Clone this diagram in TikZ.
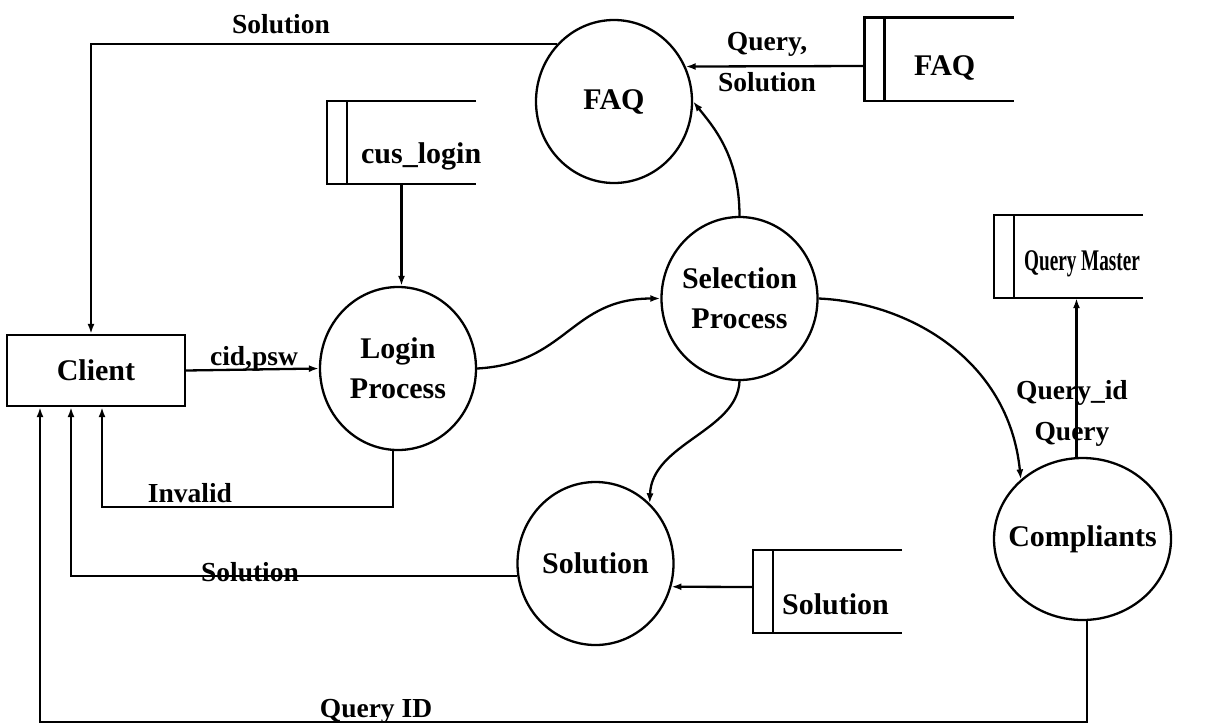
\documentclass[tikz,border=0pt]{standalone}
\usepackage{fontspec}
\setmainfont{Liberation Serif}
\usetikzlibrary{shapes.geometric,arrows.meta}

\begin{document}
\begin{tikzpicture}[x=1pt,y=-1pt,line width=2.3pt,
    proc/.style={ellipse,draw,minimum width=156pt,minimum height=163pt,
      inner xsep=-15pt,inner ysep=0pt,align=center,
      font=\fontsize{30}{40}\selectfont\bfseries},
    store/.style={minimum width=147pt,minimum height=81pt,inner sep=0pt},
    storetext/.style={anchor=base west,inner sep=0pt,font=\fontsize{30}{36}\selectfont\bfseries},
    flowlabel/.style={inner sep=0pt,align=center,font=\fontsize{27.5}{41}\selectfont\bfseries},
    flow/.style={-{Latex[length=10pt,width=7pt]}}]
\useasboundingbox (0,0) rectangle (1207,726);

% external entity
\node[draw,minimum width=178pt,minimum height=71pt,inner sep=0pt,
  font=\fontsize{30}{36}\selectfont\bfseries] (client) at (96,370.5) {Client};

% processes
\node[proc] (login) at (398,368.5) {Login\\Process};
\node[proc] (faq) at (614,101.5) {FAQ};
\node[proc] (sel) at (739.5,298.5) {Selection\\Process};
\node[proc] (sol) at (595.5,563.5) {Solution};
\node[proc,minimum width=177pt,minimum height=162pt] (comp) at (1082.5,539) {Compliants};

% data stores
\node[store] (cus) at (401.5,142.5) {};
\node[store] (faqdb) at (939,59) {};
\node[store] (qm) at (1068.5,256.5) {};
\node[store] (soldb) at (827.5,591.5) {};
\foreach \s in {cus,faqdb,qm,soldb}{
  \draw (\s.north east) -- (\s.north west) -- (\s.south west) -- (\s.south east);
  \draw ([xshift=20pt]\s.north west) -- ([xshift=20pt]\s.south west);
}
\node[storetext] (cus-txt) at (360,163) {cus\_login};
\node[storetext] (faqdb-txt) at (913,75) {FAQ};
\node[storetext] (qm-txt) at (1023,270) {\scalebox{0.64}[1]{Query Master}};
\node[storetext] (soldb-txt) at (781,614) {Solution};

% corners of the return flows
\coordinate (inv) at (0,507);
\coordinate (qid) at (0,722);

% data flows
\draw[flow] (client.east) -- (login.west);
\draw[flow] (cus.south) -- (cus.south |- login.north);
\draw[flow] (login.east) .. controls +(90,-5) and +(-90,0) .. (sel.west);
\draw[flow] (sel.north) .. controls +(0,-60) and +(20,25) .. (faq.east);
\draw[flow] ([yshift=-7pt]faqdb.west) -- (faq.26);
\draw[flow] (faq.135) -| ([xshift=-5pt]client.north);
\draw[flow] (sel.south) .. controls +(-2,50) and +(2,-60) .. (sol.48);
\draw[flow] (sel.east) .. controls +(90,4) and +(-12,-120) .. (comp.136);
\draw[flow] ([xshift=-6pt]comp.north) -- ([xshift=-6pt]comp.north |- qm.south);
\draw[flow] ([yshift=4.5pt]soldb.west) -- (sol.-17);
\draw[flow] ([xshift=-5pt]login.south) -- ([xshift=-5pt]login.south |- inv) -| ([xshift=6pt]client.south);
\draw[flow] (sol.189) -| ([xshift=-25pt]client.south);
\draw[flow] ([xshift=4.5pt]comp.south) -- ([xshift=4.5pt]comp.south |- qid) -| ([xshift=-56pt]client.south);

% flow labels
\node[flowlabel,anchor=base] (l-sol1) at (281,33) {Solution};
\node[flowlabel,anchor=base] (l-cid) at (254,365) {cid,psw};
\node[flowlabel] (l-faq) at (767,62.5) {Query,\\Solution};
\node[flowlabel,anchor=base] (l-inv) at (190,502) {Invalid};
\node[flowlabel,anchor=base] (l-sol2) at (250,581) {Solution};
\node[flowlabel,anchor=base] (l-qid) at (376,717) {Query ID};
\node[flowlabel] (l-qry) at (1072,413) {Query\_id\\Query};
\end{tikzpicture}
\end{document}
